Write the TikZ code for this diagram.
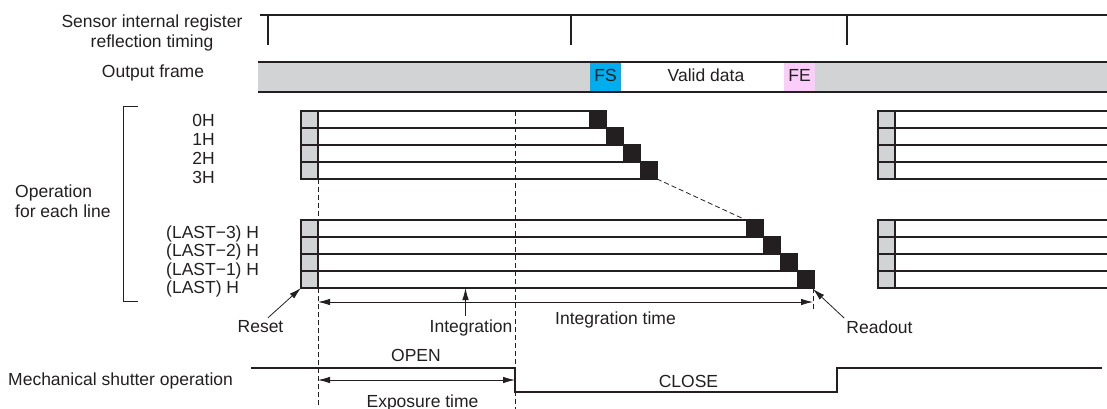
\documentclass[tikz,border=0pt]{standalone}
\usepackage{fontspec}
\setmainfont{Liberation Sans}
\usepackage{tikz}
\usetikzlibrary{arrows.meta}
\definecolor{ink}{HTML}{231F20}
\definecolor{boxgray}{HTML}{D1D3D4}
\definecolor{fscol}{HTML}{00AEEF}
\definecolor{fecol}{HTML}{FBCDFB}
\tikzstyle{txt}=[inner sep=2pt, text=ink, font=\fontsize{17.5}{20}\selectfont]
\tikzstyle{rowline}=[draw=ink, line width=1.6pt]
\tikzstyle{signal}=[draw=ink, line width=1.6pt]
\tikzstyle{guide}=[draw=ink, line width=0.8pt, dash pattern=on 5pt off 3pt]
\tikzstyle{pointer}=[draw=ink, line width=0.8pt, -{Latex[length=12pt,width=6.5pt]}]
\tikzstyle{span}=[draw=ink, line width=0.8pt, {Latex[length=12pt,width=6.5pt]}-{Latex[length=12pt,width=6.5pt]}]

\begin{document}
\begin{tikzpicture}[x=1pt,y=-1pt]
\useasboundingbox (0,0) rectangle (1107,409);
\node[txt, align=center] (reg) at (152,32.5) {Sensor internal register\\reflection timing};
\node[txt, anchor=base] (outf) at (153,78) {Output frame};
\node[txt, align=left, anchor=west, inner sep=0pt] (oper) at (15,201) {Operation\\for each line};
\node[txt, anchor=base east, inner sep=0pt] (h0) at (215,127) {0H};
\node[txt, anchor=base east, inner sep=0pt] (h1) at (215,145) {1H};
\node[txt, anchor=base east, inner sep=0pt] (h2) at (215,164) {2H};
\node[txt, anchor=base east, inner sep=0pt] (h3) at (215,183) {3H};
\node[txt, anchor=base west, inner sep=0pt] (l3) at (166,238) {(LAST−3) H};
\node[txt, anchor=base west, inner sep=0pt] (l2) at (166,256.5) {(LAST−2) H};
\node[txt, anchor=base west, inner sep=0pt] (l1) at (166,275) {(LAST−1) H};
\node[txt, anchor=base west, inner sep=0pt] (l0) at (166,293) {(LAST) H};
\node[txt, anchor=base west, inner sep=0pt] (mech) at (8,385) {Mechanical shutter operation};

\draw[signal] (260,15) -- (1107,15);
\draw[signal] (268,15) -- (268,45);
\draw[signal] (571,15) -- (571,45);
\draw[signal] (847,15) -- (847,45);

\fill[boxgray] (258,62) rectangle (1107,92);
\fill[white] (621,62) rectangle (784,92);
\fill[fscol] (590,62) rectangle (621,92);
\fill[fecol] (784,62) rectangle (815,92);
\draw[signal] (258,62) -- (1107,62);
\draw[signal] (258,92) -- (1107,92);
\node[txt, anchor=base] (fs) at (605.5,82) {FS};
\node[txt, anchor=base] (valid) at (706,82) {Valid data};
\node[txt, anchor=base] (fe) at (799.5,82) {FE};

\draw[ink, line width=1pt] (138,107) -- (123,107) -- (123,301) -- (138,301);

\fill[boxgray] (301,111) rectangle (318,179);
\fill[ink] (589,111) rectangle (606,128);
\fill[ink] (606,128) rectangle (623,145);
\fill[ink] (623,145) rectangle (640,162);
\fill[ink] (640,162) rectangle (657,179);
\draw[rowline] (301,111) rectangle (606,128);
\draw[rowline] (301,128) rectangle (623,145);
\draw[rowline] (301,145) rectangle (640,162);
\draw[rowline] (301,162) rectangle (657,179);
\draw[rowline] (318,111) -- (318,179);

\fill[boxgray] (301,220) rectangle (318,288);
\fill[ink] (746,220) rectangle (763,237);
\fill[ink] (763,237) rectangle (780,254);
\fill[ink] (780,254) rectangle (797,271);
\fill[ink] (797,271) rectangle (814,288);
\draw[rowline] (301,220) rectangle (763,237);
\draw[rowline] (301,237) rectangle (780,254);
\draw[rowline] (301,254) rectangle (797,271);
\draw[rowline] (301,271) rectangle (814,288);
\draw[rowline] (318,220) -- (318,288);

\fill[boxgray] (878,111) rectangle (895,179);
\draw[rowline] (1107,111) -- (878,111) -- (878,179) -- (1107,179);
\draw[rowline] (878,128) -- (1107,128);
\draw[rowline] (878,145) -- (1107,145);
\draw[rowline] (878,162) -- (1107,162);
\draw[rowline] (895,111) -- (895,179);

\fill[boxgray] (878,220) rectangle (895,288);
\draw[rowline] (1107,220) -- (878,220) -- (878,288) -- (1107,288);
\draw[rowline] (878,237) -- (1107,237);
\draw[rowline] (878,254) -- (1107,254);
\draw[rowline] (878,271) -- (1107,271);
\draw[rowline] (895,220) -- (895,288);

\draw[guide] (318,179) -- (318,220);
\draw[guide] (318,288) -- (318,405);
\draw[guide] (515,111) -- (515,409);
\draw[guide] (657,179) -- (746,220);
\draw[guide] (813,288) -- (813,310);

\coordinate (rsttip) at (301,288);
\coordinate (inttip) at (465.5,288);
\coordinate (rdtip) at (813,289);
\coordinate (itl) at (318,302);
\coordinate (itr) at (813,302);
\coordinate (exl) at (318,380);
\coordinate (exr) at (515,380);

\node[txt, anchor=base] (reset) at (260.5,332) {Reset};
\node[txt, anchor=base, inner sep=3pt] (integ) at (471,332) {Integration};
\node[txt, anchor=base] (itime) at (615.5,324) {Integration time};
\node[txt, anchor=base] (readout) at (879.5,333) {Readout};
\draw[pointer] ([xshift=7.5pt]reset.north) -- (rsttip);
\draw[pointer] (inttip |- integ.north) -- (inttip);
\draw[pointer] (readout.north west) -- (rdtip);
\draw[span] (itl) -- (itr);

\draw[signal] (251,368) -- (515,368) -- (515,392) -- (837,392) -- (837,368) -- (1102,368);
\node[txt, anchor=base] (open) at (416,361) {OPEN};
\node[txt, anchor=base] (close) at (688.5,387) {CLOSE};
\draw[span] (exl) -- (exr);
\node[txt, anchor=base] (expo) at (422.5,407) {Exposure time};
\end{tikzpicture}
\end{document}
